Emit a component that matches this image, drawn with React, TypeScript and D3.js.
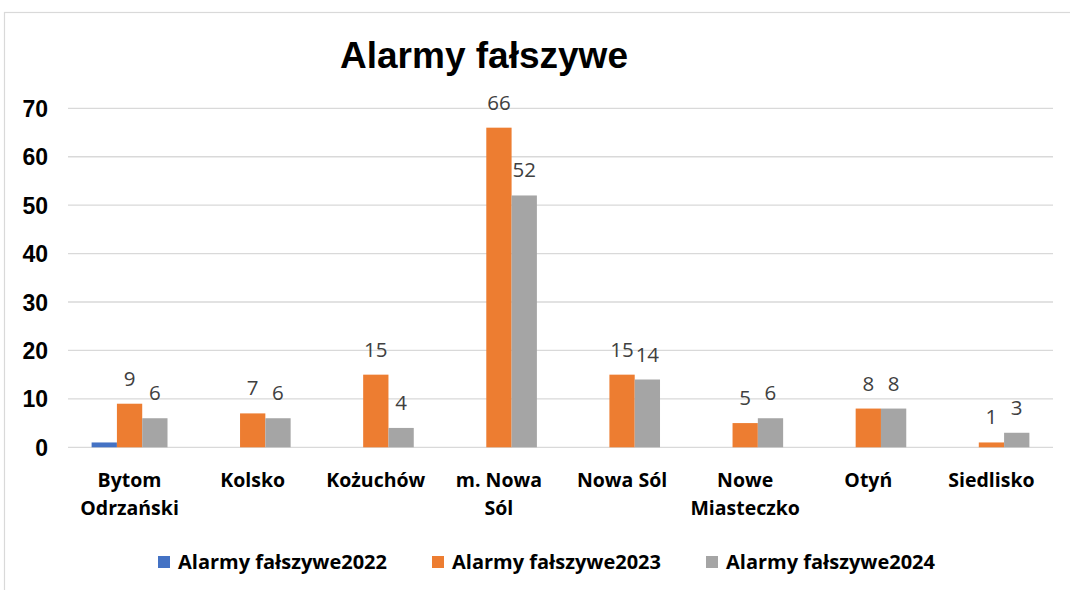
import React from "react";
import * as d3 from "d3";

const categories: string[][] = [
  ["Bytom", "Odrzański"],
  ["Kolsko"],
  ["Kożuchów"],
  ["m. Nowa", "Sól"],
  ["Nowa Sól"],
  ["Nowe", "Miasteczko"],
  ["Otyń"],
  ["Siedlisko"],
];
const seriesNames = ["Alarmy fałszywe2022", "Alarmy fałszywe2023", "Alarmy fałszywe2024"];
const values2022: (number | null)[] = [1, null, null, null, null, null, null, null];
const values2023: number[] = [9, 7, 15, 66, 15, 5, 8, 1];
const values2024: number[] = [6, 6, 4, 52, 14, 6, 8, 3];
const yTicks: number[] = [0, 10, 20, 30, 40, 50, 60, 70];
const colors = ["#4472C4", "#ED7D31", "#A5A5A5"];
const showLabels = [false, true, true];

export default function App() {
  const W = 1070;
  const H = 590;
  const plotL = 68;
  const plotR = 1053;
  const x = d3
    .scaleBand<number>()
    .domain(d3.range(categories.length))
    .range([plotL, plotR])
    .paddingInner(0)
    .paddingOuter(0);
  const y = d3.scaleLinear().domain([0, 70]).range([447.3, 108.3]);
  const barW = 25.3;
  const series = [values2022, values2023, values2024];
  const catFont = "'Open Sans', Lato, sans-serif";
  const arial = "'Liberation Sans', Arial, sans-serif";

  return (
    <svg
      width={W}
      height={H}
      style={{ position: "absolute", left: 0, top: 0, background: "#fff" }}
    >
      <rect x={4.5} y={12.5} width={1100} height={600} fill="#fff" stroke="#d9d9d9" strokeWidth={1.2} />
      <text
        x={484}
        y={68}
        textAnchor="middle"
        fontFamily={arial}
        fontWeight="bold"
        fontSize={37}
        fill="#000"
      >
        Alarmy fałszywe
      </text>
      {yTicks.map((t) => (
        <g key={t}>
          <line x1={plotL} x2={plotR} y1={y(t)} y2={y(t)} stroke="#d9d9d9" strokeWidth={1.3} />
          <text
            x={48}
            y={y(t)}
            dy="0.37em"
            textAnchor="end"
            fontFamily={arial}
            fontWeight="bold"
            fontSize={23}
            fill="#000"
          >
            {t}
          </text>
        </g>
      ))}
      {series.map((vals, si) =>
        vals.map((v, ci) => {
          if (v === null || v === undefined) return null;
          const cx = (x(ci) as number) + x.bandwidth() / 2;
          const bx = cx - (barW * 3) / 2 + si * barW;
          return (
            <g key={`${si}-${ci}`}>
              <rect x={bx} y={y(v)} width={barW} height={y(0) - y(v)} fill={colors[si]} />
              {showLabels[si] && (
                <text
                  x={bx + barW / 2}
                  y={y(v) - 18}
                  textAnchor="middle"
                  fontFamily={catFont}
                  fontSize={20.5}
                  fill="#404040"
                >
                  {v}
                </text>
              )}
            </g>
          );
        })
      )}
      {categories.map((lines, ci) => {
        const cx = (x(ci) as number) + x.bandwidth() / 2;
        return (
          <text
            key={ci}
            textAnchor="middle"
            fontFamily={catFont}
            fontWeight="bold"
            fontSize={19.5}
            fill="#000"
          >
            {lines.map((l, li) => (
              <tspan key={li} x={cx} y={486.5 + li * 28.5}>
                {l}
              </tspan>
            ))}
          </text>
        );
      })}
      {seriesNames.map((name, si) => {
        const lx = 158 + si * 274;
        return (
          <g key={name}>
            <rect x={lx} y={556} width={12} height={12} fill={colors[si]} />
            <text
              x={lx + 20}
              y={569}
              fontFamily={catFont}
              fontWeight="bold"
              fontSize={20}
              fill="#000"
            >
              {name}
            </text>
          </g>
        );
      })}
    </svg>
  );
}
